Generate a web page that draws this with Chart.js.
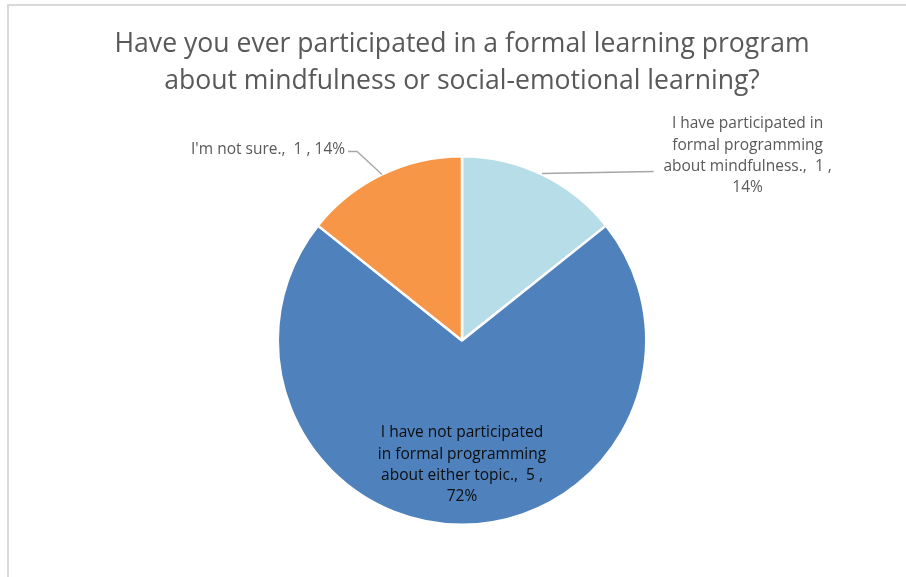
<!DOCTYPE html>
<html>
<head>
<meta charset="utf-8">
<title>Mindfulness / SEL participation</title>
<script src="https://cdn.jsdelivr.net/npm/chart.js@4/dist/chart.umd.min.js"></script>
<style>
  html, body { margin: 0; padding: 0; background: #ffffff; }
  #wrap { position: relative; width: 906px; height: 577px; }
</style>
</head>
<body>
<div id="wrap"><canvas id="pie" width="906" height="577"></canvas></div>
<script>
// Survey responses
const categories = [
  "I have participated in formal programming about mindfulness.",
  "I have not participated in formal programming about either topic.",
  "I'm not sure."
];
const counts = [1, 5, 1];
const percentLabels = ["14%", "72%", "14%"];
const sliceColors = ["#b7dee8", "#4f81bd", "#f79646"];

const titleLines = [
  "Have you ever participated in a formal learning program",
  "about mindfulness or social-emotional learning?"
];

// Wrapped data-label lines for each slice (category, value, percent)
const labelLines = [
  ["I have participated in", "formal programming", "about mindfulness.,  1 ,", percentLabels[0]],
  ["I have not participated", "in formal programming", "about either topic.,  5 ,", percentLabels[1]],
  [categories[2] + ",  " + counts[2] + " , " + percentLabels[2]]
];

const LABEL_FONT = '15.5px "Open Sans", Lato, sans-serif';
const TITLE_FONT = '27px "Open Sans", Lato, sans-serif';

// Thin frame around the chart object plus the two-line title
const framePlugin = {
  id: 'frameAndTitle',
  beforeDraw(chart) {
    const ctx = chart.ctx;
    ctx.save();
    ctx.fillStyle = '#ffffff';
    ctx.fillRect(0, 0, chart.width, chart.height);
    ctx.strokeStyle = '#d9d9d9';
    ctx.lineWidth = 2;
    ctx.beginPath();
    ctx.moveTo(8, chart.height);
    ctx.lineTo(8, 5);
    ctx.lineTo(chart.width, 5);
    ctx.stroke();
    ctx.restore();
  },
  afterDraw(chart) {
    const ctx = chart.ctx;
    const arc = chart.getDatasetMeta(0).data[0];
    const cx = arc.x;
    ctx.save();
    ctx.fillStyle = '#595959';
    ctx.font = TITLE_FONT;
    ctx.textAlign = 'center';
    ctx.textBaseline = 'alphabetic';
    // set the title to a fixed run width for its first line
    const targetW = 695;
    const w = ctx.measureText(titleLines[0]).width;
    const sx = targetW / w;
    ctx.translate(cx, 0);
    ctx.scale(sx, 1);
    ctx.fillText(titleLines[0], 0, 52);
    ctx.fillText(titleLines[1], 0, 89);
    ctx.restore();
  }
};

// Data labels with leader lines, positioned from each arc's geometry
const labelPlugin = {
  id: 'sliceLabels',
  afterDatasetsDraw(chart) {
    const ctx = chart.ctx;
    const meta = chart.getDatasetMeta(0);
    ctx.save();
    ctx.font = LABEL_FONT;
    const lh = 21.3;
    meta.data.forEach((arc, i) => {
      const mid = (arc.startAngle + arc.endAngle) / 2;
      const r = arc.outerRadius;
      const ex = arc.x + Math.cos(mid) * r;
      const ey = arc.y + Math.sin(mid) * r;
      const lines = labelLines[i];
      if (i === 0) {
        // outside, upper right, leader runs to the label's third line
        ctx.strokeStyle = '#a6a6a6';
        ctx.lineWidth = 1.3;
        ctx.beginPath();
        ctx.moveTo(ex, ey - 1);
        ctx.lineTo(arc.x + 1.04 * r, ey - 3);
        ctx.stroke();
        ctx.fillStyle = '#595959';
        ctx.textAlign = 'center';
        const lx = arc.x + 1.55 * r;
        const by = ey - 46;
        lines.forEach((t, k) => ctx.fillText(t, lx, by + k * lh));
      } else if (i === 1) {
        // inside the large slice
        ctx.fillStyle = '#0d0d0d';
        ctx.textAlign = 'center';
        const by = arc.y + 0.525 * r;
        lines.forEach((t, k) => ctx.fillText(t, arc.x, by + k * lh));
      } else {
        // outside, upper left, with an elbowed leader
        const elbowX = ex - 25, elbowY = ey - 23;
        ctx.strokeStyle = '#a6a6a6';
        ctx.lineWidth = 1.3;
        ctx.beginPath();
        ctx.moveTo(ex, ey);
        ctx.lineTo(elbowX, elbowY);
        ctx.lineTo(elbowX - 9, elbowY);
        ctx.stroke();
        ctx.fillStyle = '#595959';
        ctx.textAlign = 'right';
        ctx.fillText(lines[0], elbowX - 12, elbowY + 3);
      }
    });
    ctx.restore();
  }
};

new Chart(document.getElementById('pie'), {
  type: 'pie',
  data: {
    labels: categories,
    datasets: [{
      data: counts,
      backgroundColor: sliceColors,
      borderColor: '#ffffff',
      borderWidth: 2.5
    }]
  },
  options: {
    responsive: false,
    animation: false,
    layout: { padding: { top: 155, bottom: 51, left: 18, right: 0 } },
    plugins: {
      legend: { display: false },
      tooltip: { enabled: false },
      title: { display: false }
    }
  },
  plugins: [framePlugin, labelPlugin]
});
</script>
</body>
</html>
